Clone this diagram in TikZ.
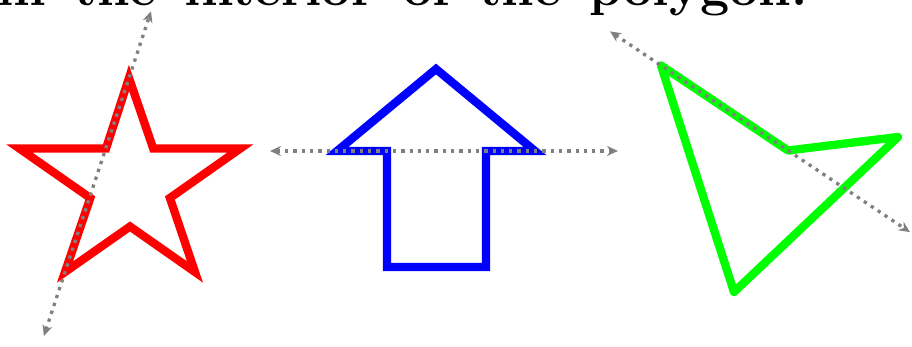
\documentclass[tikz,border=0pt]{standalone}
\usetikzlibrary{arrows.meta,calc}
\begin{document}
\begin{tikzpicture}[x=1pt,y=-1pt,
  polyline/.style={line width=8.3pt, line join=miter, miter limit=20},
  redpoly/.style={polyline, draw={rgb,255:red,255;green,0;blue,0}},
  bluepoly/.style={polyline, draw={rgb,255:red,0;green,0;blue,255}},
  greenpoly/.style={polyline, line join=round, draw={rgb,255:red,0;green,255;blue,0}},
  guideline/.style={draw={rgb,255:red,128;green,128;blue,128}, line width=3.3pt,
    dash pattern=on 3.3pt off 5pt,
    {Stealth[length=11pt,width=10pt]}-{Stealth[length=11pt,width=10pt]}},
  captionfont/.style={font=\fontsize{52}{60}\selectfont\bfseries}
]
\useasboundingbox (0,0) rectangle (912,347);
\clip (0,0) rectangle (912,347);

% caption (top part cut off)
\node[captionfont, anchor=base west, inner sep=0pt] (caption) at (-3,6)
  {\spaceskip=28.5pt\relax in the interior of the polygon.};

% star
\coordinate (sT)  at (129,78);
\coordinate (sI1) at (153.2,148.5);
\coordinate (sR)  at (240.3,148.5);
\coordinate (sI2) at (169.9,198);
\coordinate (sBR) at (195,272);
\coordinate (sI3) at (130,226.5);
\coordinate (sBL) at (65,272);
\coordinate (sI4) at (90.3,198);
\coordinate (sL)  at (19.4,148.5);
\coordinate (sI5) at (106,148.5);
\draw[redpoly] (sT) -- (sI1) -- (sR) -- (sI2) -- (sBR) -- (sI3) -- (sBL) -- (sI4) -- (sL) -- (sI5) -- cycle;

% arrow
\coordinate (aL)  at (337,151);
\coordinate (aT)  at (436,69);
\coordinate (aR)  at (535,151);
\coordinate (aSR) at (486,151);
\coordinate (aBR) at (486,267);
\coordinate (aBL) at (387,267);
\coordinate (aSL) at (387,151);
\draw[bluepoly] (aL) -- (aT) -- (aR) -- (aSR) -- (aBR) -- (aBL) -- (aSL) -- cycle;

% kite
\coordinate (gA) at (661,65.5);
\coordinate (gB) at (788,150.5);
\coordinate (gC) at (898,137);
\coordinate (gD) at (734,292);
\draw[greenpoly] (gA) -- (gB) -- (gC) -- (gD) -- cycle;

% guide lines (edges extended)
\coordinate (s1) at ($(sT)!-0.344!(sBL)$);
\coordinate (s2) at ($(sT)!1.33!(sBL)$);
\draw[guideline] (s2) -- (s1);

\coordinate (a1) at ($(aL)!-0.3384!(aR)$);
\coordinate (a2) at ($(aL)!1.419!(aR)$);
\draw[guideline] (a1) -- (a2);

\coordinate (g1) at ($(gA)!-0.4016!(gB)$);
\coordinate (g2) at ($(gA)!1.9606!(gB)$);
\draw[guideline] (g1) -- (g2);
\end{tikzpicture}
\end{document}
